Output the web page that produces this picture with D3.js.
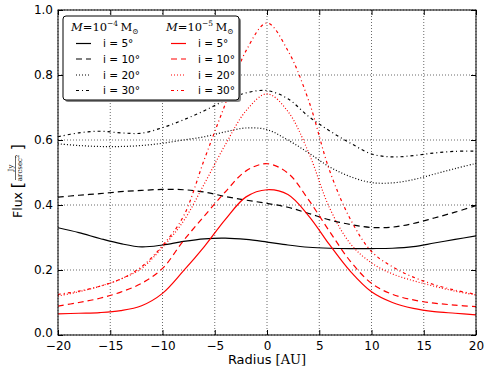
<!DOCTYPE html>
<html><head><meta charset="utf-8">
<script src="https://cdn.jsdelivr.net/npm/d3@7"></script>
<style>body{margin:0;background:#fff}svg{display:block}</style>
</head><body><svg id="c" width="491" height="374"></svg>
<script>
// ---------- data ----------
const radius = [-20,-18,-16,-14,-12,-10,-8,-6,-4,-2,0,2,4,6,8,10,12,14,16,18,20];
const xTicks = [-20,-15,-10,-5,0,5,10,15,20];
const yTicks = [0,0.2,0.4,0.6,0.8,1.0];
const inclinations = [5,10,20,30];
const massLabels = ["-4","-5"];

// M = 1e-4 Msun (black)
const fluxM4_i5  = [.330,.315,.297,.281,.271,.277,.288,.296,.298,.294,.286,.277,.270,.267,.266,.266,.267,.272,.283,.294,.305];
const fluxM4_i10 = [.424,.430,.435,.441,.445,.448,.447,.440,.426,.415,.405,.393,.374,.354,.340,.331,.332,.343,.360,.378,.398];
const fluxM4_i20 = [.588,.583,.580,.580,.583,.590,.600,.610,.625,.637,.632,.600,.560,.517,.487,.469,.468,.478,.495,.512,.528];
const fluxM4_i30 = [.610,.622,.627,.622,.621,.638,.662,.690,.722,.745,.752,.727,.672,.628,.590,.557,.548,.552,.560,.565,.566];
// M = 1e-5 Msun (red)
const fluxM5_i5  = [.065,.067,.069,.075,.090,.128,.197,.272,.355,.425,.447,.432,.366,.277,.195,.133,.100,.082,.072,.067,.062];
const fluxM5_i10 = [.089,.100,.113,.132,.159,.205,.290,.366,.440,.505,.527,.498,.415,.318,.226,.159,.125,.108,.098,.092,.087];
const fluxM5_i20 = [.120,.133,.150,.172,.205,.270,.350,.465,.585,.690,.742,.688,.560,.390,.280,.222,.188,.167,.150,.135,.123];
const fluxM5_i30 = [.125,.135,.150,.172,.210,.275,.365,.540,.710,.875,.960,.875,.720,.505,.355,.257,.210,.178,.155,.138,.125];

const seriesM4 = [fluxM4_i5, fluxM4_i10, fluxM4_i20, fluxM4_i30];
const seriesM5 = [fluxM5_i5, fluxM5_i10, fluxM5_i20, fluxM5_i30];
const massColors = ["#000000", "#ff0000"];
const dashStyles = [null, "6,4", "1,2", "3,3,1,3"];

// ---------- layout ----------
const W = 491, H = 374;
const m = {left: 58, right: 15, top: 10, bottom: 39};
const svg = d3.select("#c");
const x = d3.scaleLinear().domain([-20,20]).range([m.left, W - m.right]);
const y = d3.scaleLinear().domain([0,1]).range([H - m.bottom, m.top]);
const sans = "DejaVu Sans, sans-serif";
const serif = "DejaVu Serif, serif";

// grid
const grid = svg.append("g").attr("stroke","#444").attr("stroke-width",0.8).attr("stroke-dasharray","1,2");
xTicks.forEach(t => grid.append("line").attr("x1",x(t)).attr("x2",x(t)).attr("y1",y(0)).attr("y2",y(1)));
yTicks.forEach(t => grid.append("line").attr("x1",x(-20)).attr("x2",x(20)).attr("y1",y(t)).attr("y2",y(t)));

// clip
svg.append("clipPath").attr("id","clip").append("rect")
  .attr("x",m.left).attr("y",m.top).attr("width",W-m.left-m.right).attr("height",H-m.top-m.bottom);

const line = d3.line().x((d,i)=>x(radius[i])).y(d=>y(d)).curve(d3.curveCatmullRom.alpha(0.5));
const plotG = svg.append("g").attr("clip-path","url(#clip)");
[seriesM4, seriesM5].forEach((group, gi) => {
  group.forEach((vals, si) => {
    plotG.append("path").datum(vals).attr("d", line)
      .attr("fill","none").attr("stroke", massColors[gi]).attr("stroke-width",1.2)
      .attr("stroke-dasharray", dashStyles[si]);
  });
});

// axes: bottom/top/left/right with inward ticks
const fmtX = d => (d < 0 ? "\u2212" + Math.abs(d) : "" + d);
const axB = svg.append("g").attr("transform",`translate(0,${y(0)})`)
  .call(d3.axisBottom(x).tickValues(xTicks).tickSizeInner(-5).tickSizeOuter(0).tickPadding(6).tickFormat(fmtX));
const axT = svg.append("g").attr("transform",`translate(0,${y(1)})`)
  .call(d3.axisTop(x).tickValues(xTicks).tickSizeInner(-5).tickSizeOuter(0).tickFormat(""));
const axL = svg.append("g").attr("transform",`translate(${x(-20)},0)`)
  .call(d3.axisLeft(y).tickValues(yTicks).tickSizeInner(-5).tickSizeOuter(0).tickPadding(5).tickFormat(d3.format(".1f")));
const axR = svg.append("g").attr("transform",`translate(${x(20)},0)`)
  .call(d3.axisRight(y).tickValues(yTicks).tickSizeInner(-5).tickSizeOuter(0).tickFormat(""));
[axB,axT,axL,axR].forEach(a => {
  a.select(".domain").remove();
  a.selectAll("line").attr("stroke","#000").attr("stroke-width",1);
  a.selectAll("text").attr("font-family",sans).attr("font-size","12px").attr("fill","#000");
});
// nudge the "0.0" label slightly upward so it clears the "−20" label
axL.selectAll(".tick text").filter(d => d === 0).attr("y", -2.5);
svg.append("rect").attr("x",x(-20)).attr("y",y(1)).attr("width",x(20)-x(-20)).attr("height",y(0)-y(1))
  .attr("fill","none").attr("stroke","#000").attr("stroke-width",1);

// x label
const xl = svg.append("text").attr("x",267).attr("y",364).attr("text-anchor","middle")
  .attr("font-family",sans).attr("font-size","13px");
xl.append("tspan").text("Radius ");
xl.append("tspan").attr("font-family",serif).text("[AU]");

// y label (rotated)
const yl = svg.append("g").attr("transform","translate(22,172) rotate(-90)");
yl.append("text").attr("x",-20).attr("y",0).attr("text-anchor","end")
  .attr("font-family",sans).attr("font-size","12.5px").text("Flux");
yl.append("text").attr("x",-13).attr("y",1).attr("text-anchor","middle")
  .attr("font-family",sans).attr("font-size","16px").text("[");
yl.append("line").attr("x1",-8).attr("x2",16).attr("y1",-6.5).attr("y2",-6.5).attr("stroke","#000").attr("stroke-width",0.6);
yl.append("text").attr("x",4).attr("y",-9).attr("text-anchor","middle")
  .attr("font-family",serif).attr("font-size","7px").text("Jy");
const den = yl.append("text").attr("x",4).attr("y",-0.5).attr("text-anchor","middle")
  .attr("font-family",serif).attr("font-size","7px");
den.append("tspan").text("arcsec");
den.append("tspan").attr("dy",-3).attr("font-size","5px").text("2");
yl.append("text").attr("x",25).attr("y",1).attr("text-anchor","middle")
  .attr("font-family",sans).attr("font-size","16px").text("]");

// legend
const lg = svg.append("g");
const lx = 63, ly = 16, lw = 176, lh = 84;
lg.append("rect").attr("x",lx+2).attr("y",ly+2).attr("width",lw).attr("height",lh).attr("rx",3)
  .attr("fill","#888");
lg.append("rect").attr("x",lx).attr("y",ly).attr("width",lw).attr("height",lh).attr("rx",3)
  .attr("fill","#fff").attr("stroke","#000").attr("stroke-width",1);
const colX = [lx + 8, lx + 103];
const rowY = [43.5, 59, 75, 90.5];
massLabels.forEach((ml, gi) => {
  const t = lg.append("text").attr("x", colX[gi]).attr("y", 31).attr("font-family", serif).attr("font-size","11.5px");
  t.append("tspan").attr("font-style","italic").text("M");
  t.append("tspan").text("=10");
  t.append("tspan").attr("dy",-5).attr("font-size","7.5px").text("\u2212" + ml.slice(1));
  t.append("tspan").attr("dy",5).text("\u2009M");
  t.append("tspan").attr("dy",3).attr("font-size","7.5px").text("\u2299");
  inclinations.forEach((inc, si) => {
    lg.append("line").attr("x1", colX[gi] + 5).attr("x2", colX[gi] + 20)
      .attr("y1", rowY[si]).attr("y2", rowY[si])
      .attr("stroke", massColors[gi]).attr("stroke-width",1.2).attr("stroke-dasharray", dashStyles[si]);
    lg.append("text").attr("x", colX[gi] + 32).attr("y", rowY[si]).attr("dy","0.35em")
      .attr("font-family", sans).attr("font-size","10.5px").text(`i = ${inc}\u00b0`);
  });
});
</script></body></html>
